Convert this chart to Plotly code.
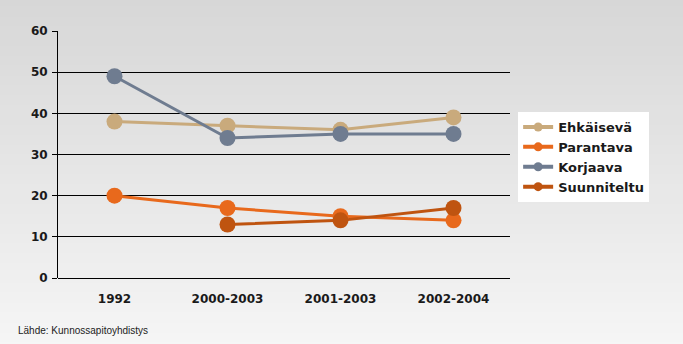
import plotly.graph_objects as go

categories = ["1992", "2000-2003", "2001-2003", "2002-2004"]
ehkaiseva = [38, 37, 36, 39]
parantava = [20, 17, 15, 14]
korjaava = [49, 34, 35, 35]
suunniteltu = [None, 13, 14, 17]
y_ticks = [0, 10, 20, 30, 40, 50, 60]

series = [
    ("Ehkäisevä", ehkaiseva, "#c9aa7c"),
    ("Parantava", parantava, "#e8691c"),
    ("Korjaava", korjaava, "#6f7c90"),
    ("Suunniteltu", suunniteltu, "#bf5410"),
]

fig = go.Figure()
for name, vals, col in series:
    fig.add_trace(go.Scatter(
        x=categories, y=vals, name=name, mode="lines+markers",
        line=dict(color=col, width=3),
        marker=dict(color=col, size=16),
        connectgaps=False, showlegend=False, legendgroup=name,
    ))
# legend entries with small symbols
for name, vals, col in series:
    fig.add_trace(go.Scatter(
        x=[None], y=[None], name=name, mode="lines+markers",
        line=dict(color=col, width=4),
        marker=dict(color=col, size=9),
        showlegend=True, legendgroup=name,
    ))

# gradient background bands
shapes = []
n = 40
for i in range(n):
    t = i / (n - 1)
    v = int(212 + (246 - 212) * t)
    c = f"rgb({v},{v},{v})"
    shapes.append(dict(type="rect", xref="paper", yref="paper",
                       x0=-1, x1=2, y0=1.3 - (i + 1) * (1.6 / n) - 0.01,
                       y1=1.3 - i * (1.6 / n), fillcolor=c,
                       line=dict(width=0), layer="below"))

tickfont = dict(size=12, family="DejaVu Sans", color="#1a1a1a", weight="bold")

fig.update_layout(
    width=683, height=344,
    margin=dict(l=58, r=173, t=31, b=66),
    paper_bgcolor="#e8e8e8",
    plot_bgcolor="rgba(0,0,0,0)",
    shapes=shapes,
    font=dict(family="Liberation Sans, Arial, sans-serif", color="#1a1a1a"),
    showlegend=True,
    legend=dict(x=1.018, y=0.672, xanchor="left", yanchor="top",
                bgcolor="white", borderwidth=0,
                font=dict(size=13, family="DejaVu Sans", color="#1a1a1a", weight="bold"),
                itemwidth=30, tracegroupgap=0),
    xaxis=dict(type="category", range=[-0.5, 3.5], showgrid=False,
               showline=False, ticks="", zeroline=False,
               tickfont=tickfont, ticklabelstandoff=12),
    yaxis=dict(range=[0, 60], tickvals=y_ticks, showgrid=True,
               gridcolor="black", gridwidth=1, showline=True,
               linecolor="black", linewidth=1, zeroline=True,
               zerolinecolor="black", zerolinewidth=1,
               tickfont=tickfont,
               ticks="outside", ticklen=5, tickcolor="black",
               ticklabelstandoff=2),
    annotations=[dict(text="Lähde: Kunnossapitoyhdistys", xref="paper", yref="paper",
                      x=-42/452, y=-52/247, xanchor="left", yanchor="middle",
                      showarrow=False,
                      font=dict(size=10, family="Liberation Sans", color="#222222"))],
)

fig.write_html("out.html")
